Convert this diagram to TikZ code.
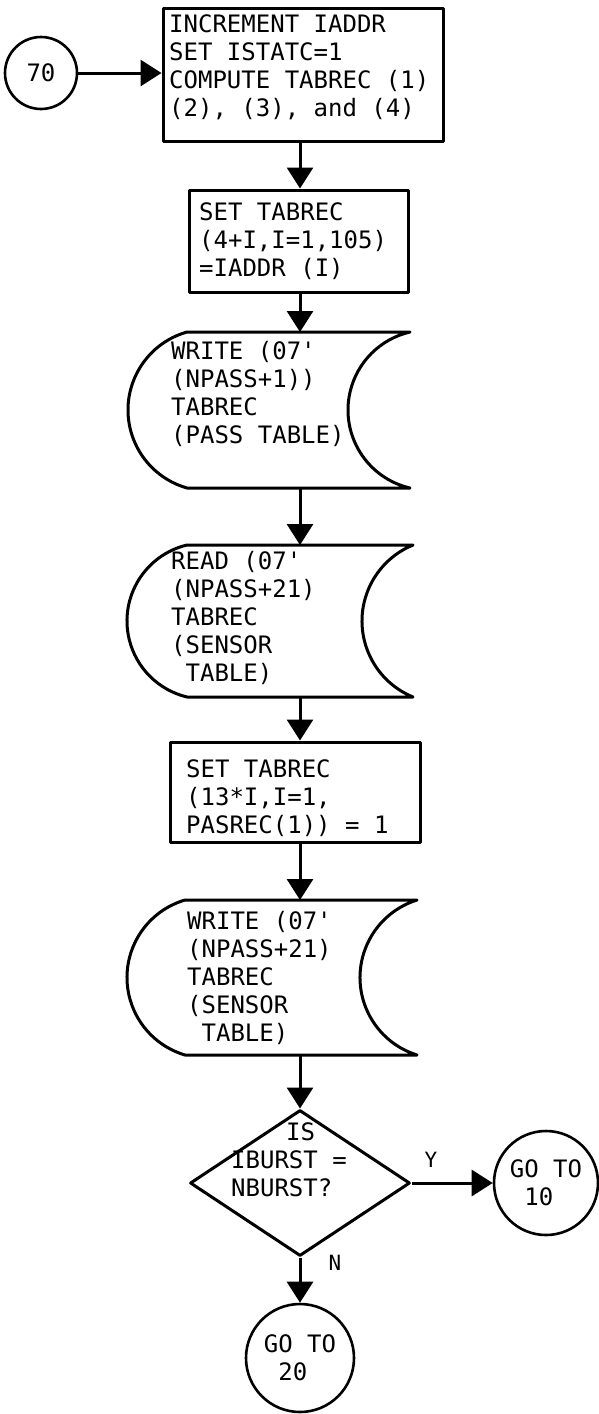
\documentclass[tikz,border=0pt]{standalone}
\usepackage{fontspec}
\newfontfamily\flowfont{DejaVu Sans Mono}
\usetikzlibrary{arrows.meta,shapes.geometric}

\tikzset{
  outline/.style={draw=black, line width=3pt, line join=round},
  flowbox/.style 2 args={outline, rectangle, minimum width=#1, minimum height=#2, inner sep=0pt},
  slot/.style 2 args={rectangle, minimum width=#1, minimum height=#2, inner sep=0pt, outer sep=0pt},
  connector/.style={circle, outline, line width=2.6pt, minimum size=#1, inner sep=0pt, align=left,
    font=\flowfont\fontsize{24}{28}\selectfont},
  decision/.style={diamond, outline, minimum width=220pt, minimum height=146pt, inner sep=0pt},
  txt/.style={font=\flowfont\fontsize{24}{28}\selectfont, align=left, inner sep=0pt, anchor=north west},
  tag/.style={font=\flowfont\fontsize{21}{24}\selectfont, inner sep=0pt},
  flow/.style={line width=3pt, -{Triangle[length=21pt,width=26pt]}},
}

% on-line storage outline: convex arc on the left, concave arc on the right
% #1 frame node, #2 half height, #3 left bulge, #4 right hollow
\newcommand\storeshape[4]{%
  \pgfmathsetmacro\stRl{(#2*#2+#3*#3)/(2*#3)}%
  \pgfmathsetmacro\stAl{asin(#2/\stRl)}%
  \pgfmathsetmacro\stRr{(#2*#2+#4*#4)/(2*#4)}%
  \pgfmathsetmacro\stAr{asin(#2/\stRr)}%
  \pgfmathsetmacro\stAlA{180-\stAl}\pgfmathsetmacro\stAlB{180+\stAl}%
  \pgfmathsetmacro\stArA{180+\stAr}\pgfmathsetmacro\stArB{180-\stAr}%
  \draw[outline] (#1.north west)
    arc[start angle=\stAlA, end angle=\stAlB, radius=\stRl]
    -- (#1.south east)
    arc[start angle=\stArA, end angle=\stArB, radius=\stRr]
    -- cycle;
}

\begin{document}
\begin{tikzpicture}[x=1pt, y=1pt]
\useasboundingbox (0,0) rectangle (598,-1414);
\fill[white] (0,0) rectangle (598,-1414);

\coordinate (axis) at (300,0);

% entry connector and first process box
\node[connector=72pt, font=\flowfont\fontsize{24}{28}\selectfont] (c70) at (41,-73) {70};
\node[flowbox={280pt}{133pt}] (b1) at (303,-74.5) {};
\node[txt] (b1t) at (169,-14) {INCREMENT IADDR\\SET ISTATC=1\\COMPUTE TABREC (1)\\(2), (3), and (4)};

\node[flowbox={219pt}{102pt}] (b2) at (298.5,-241) {};
\node[txt] (b2t) at (199,-202) {SET TABREC\\(4+I,I=1,105)\\=IADDR (I)};

% storage blocks
\node[slot={223pt}{156pt}] (s1) at (298.5,-410) {};
\storeshape{s1}{78}{59}{62}
\node[txt] (s1t) at (171,-341) {WRITE (07'\\(NPASS+1))\\TABREC\\(PASS TABLE)};

\node[slot={226pt}{152pt}] (s2) at (300,-621) {};
\storeshape{s2}{76}{60}{51}
\node[txt] (s2t) at (171,-551) {READ (07'\\(NPASS+21)\\TABREC\\(SENSOR\\~TABLE)};

\node[flowbox={250pt}{100pt}] (b3) at (295,-792) {};
\node[txt] (b3t) at (186,-759) {SET TABREC\\(13*I,I=1,\\PASREC(1)) = 1};

\node[slot={232pt}{155pt}] (s3) at (301,-977.5) {};
\storeshape{s3}{77.5}{58}{57}
\node[txt] (s3t) at (187,-911) {WRITE (07'\\(NPASS+21)\\TABREC\\(SENSOR\\~TABLE)};

% decision and exits
\node[decision] (d) at (300,-1183) {};
\node[txt] (dt) at (231,-1122) {\hspace*{55pt}IS\\IBURST =\\NBURST?};
\node[connector=104pt] (c10) at (546,-1183) {GO TO\\~10};
\node[connector=108pt] (c20) at (300,-1358) {GO TO\\~20};
\node[tag] (ylab) at (431,-1160) {Y};
\node[tag] (nlab) at (335,-1263) {N};

% connectors
\draw[flow] (c70.east) -- (c70.east -| b1.west);
\draw[flow] (b1.south -| axis) -- (b2.north -| axis);
\draw[flow] (b2.south -| axis) -- (s1.north -| axis);
\draw[flow] (s1.south -| axis) -- (s2.north -| axis);
\draw[flow] (s2.south -| axis) -- (b3.north -| axis);
\draw[flow] (b3.south -| axis) -- (s3.north -| axis);
\draw[flow] (s3.south -| axis) -- (d.north);
\draw[flow] (d.east) -- (c10.west);
\draw[flow] (d.south) -- (c20.north);
\end{tikzpicture}
\end{document}
